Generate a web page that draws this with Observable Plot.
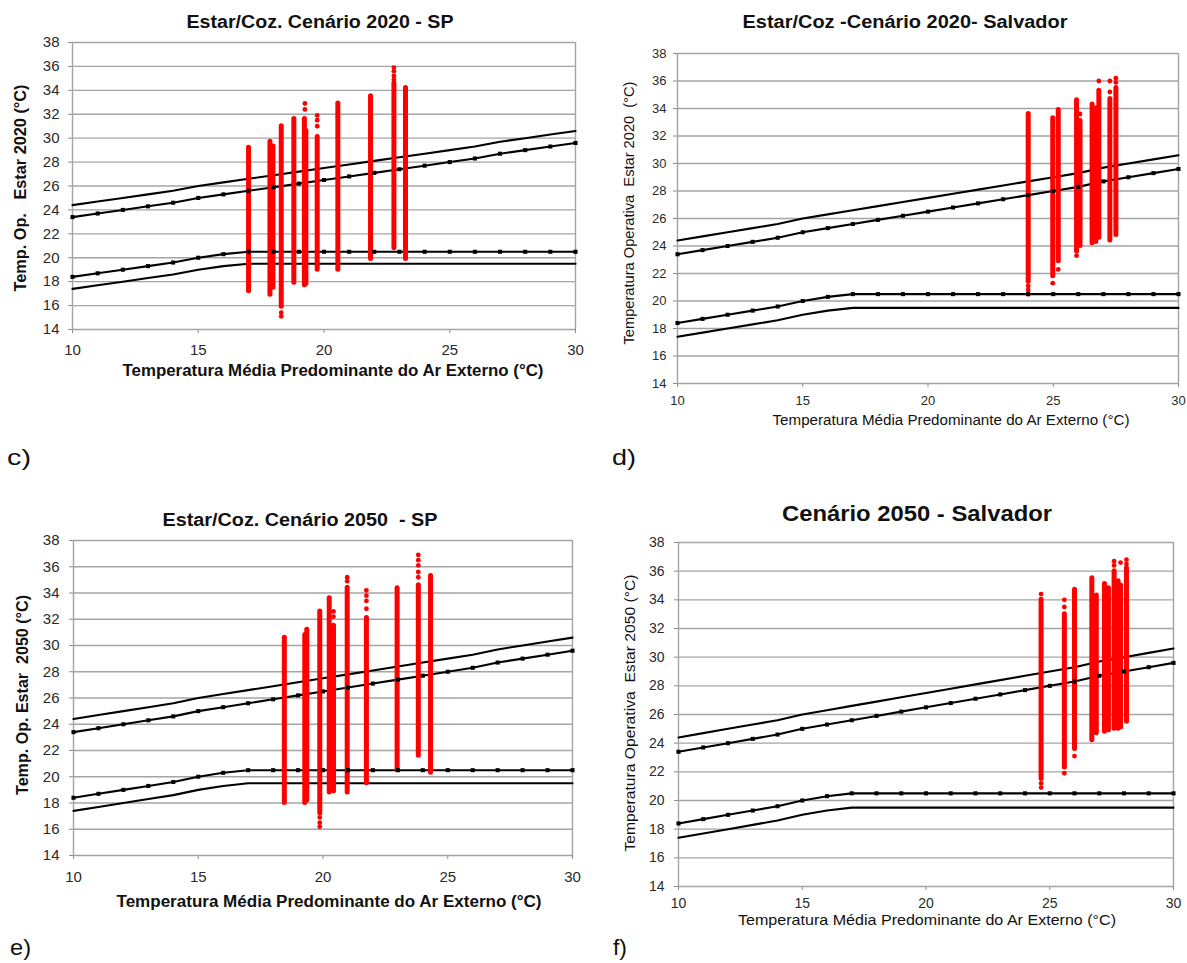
<!DOCTYPE html>
<html>
<head>
<meta charset="utf-8">
<script src="https://cdn.jsdelivr.net/npm/d3@7"></script>
<script src="https://cdn.jsdelivr.net/npm/@observablehq/plot@0.6"></script>
<style>
html, body { margin: 0; padding: 0; background: #fff; }
#fig { position: relative; width: 1187px; height: 963px; overflow: hidden; background: #fff; }
.panel { position: absolute; }
.panel svg { overflow: visible; }
.panel text { fill: #2a2a2a; }
#overlay { position: absolute; left: 0; top: 0; pointer-events: none; }
#overlay text { white-space: pre; }
</style>
</head>
<body>
<div id="fig"></div>
<script>
// ---------- data ----------
const tempExt = [10, 11, 12, 13, 14, 15, 16, 17, 18, 19, 20, 21, 22, 23, 24, 25, 26, 27, 28, 29, 30];
const upper80 = [24.4, 24.7, 25.0, 25.3, 25.6, 26.0, 26.3, 26.6, 26.9, 27.2, 27.5, 27.8, 28.1, 28.4, 28.7, 29.0, 29.3, 29.7, 30.0, 30.3, 30.6];
const upper90 = [23.4, 23.7, 24.0, 24.3, 24.6, 25.0, 25.3, 25.6, 25.9, 26.2, 26.5, 26.8, 27.1, 27.4, 27.7, 28.0, 28.3, 28.7, 29.0, 29.3, 29.6];
const lower90 = [18.4, 18.7, 19.0, 19.3, 19.6, 20.0, 20.3, 20.5, 20.5, 20.5, 20.5, 20.5, 20.5, 20.5, 20.5, 20.5, 20.5, 20.5, 20.5, 20.5, 20.5];
const lower80 = [17.4, 17.7, 18.0, 18.3, 18.6, 19.0, 19.3, 19.5, 19.5, 19.5, 19.5, 19.5, 19.5, 19.5, 19.5, 19.5, 19.5, 19.5, 19.5, 19.5, 19.5];
const yTicks = [14, 16, 18, 20, 22, 24, 26, 28, 30, 32, 34, 36, 38];
const xTicks = [10, 15, 20, 25, 30];

// simulated operative temperature columns: [outdoor mean temp, lowest, highest]
const colsC = [
  [17.0, 17.2, 29.2], [17.85, 16.9, 29.7], [17.97, 17.5, 29.3], [18.3, 15.9, 31.0],
  [18.8, 17.9, 31.6], [19.22, 17.7, 31.6], [19.28, 17.8, 30.6], [19.73, 19.0, 30.1],
  [20.55, 19.0, 32.9], [21.85, 19.9, 33.5], [22.78, 20.8, 34.6], [23.24, 19.9, 34.2]
];
const dotsC = [
  [18.3, 15.1], [18.3, 15.4], [19.24, 32.9], [19.24, 32.4], [19.73, 31.9], [19.73, 31.5],
  [19.73, 31.0], [22.78, 35.9], [22.78, 35.6], [22.78, 35.2], [22.78, 34.9]
];
const colsD = [
  [24.0, 21.4, 33.6], [24.98, 21.8, 33.3], [25.2, 22.9, 33.9], [25.93, 23.6, 34.6],
  [26.07, 24.0, 33.1], [26.55, 24.2, 34.3], [26.7, 24.3, 34.0], [26.82, 24.6, 35.3],
  [27.26, 24.4, 34.7], [27.5, 24.8, 35.5]
];
const dotsD = [
  [24.0, 20.5], [24.0, 20.8], [24.0, 21.1], [24.98, 21.3], [25.2, 22.3], [25.93, 23.3],
  [26.07, 33.6], [26.82, 36.0], [27.26, 36.0], [27.26, 35.2], [27.5, 36.2], [27.5, 35.9]
];
const colsE = [
  [18.45, 18.0, 30.6], [19.27, 18.0, 30.8], [19.35, 18.2, 31.2], [19.87, 17.2, 32.6],
  [20.25, 18.8, 33.6], [20.42, 18.9, 31.5], [20.97, 18.8, 34.4], [21.74, 19.5, 32.1],
  [22.97, 20.5, 34.3], [23.82, 21.6, 34.6], [24.31, 20.3, 35.3]
];
const dotsE = [
  [19.87, 16.2], [19.87, 16.5], [19.87, 16.9], [20.42, 32.6], [20.42, 32.2], [20.97, 35.2],
  [20.97, 34.9], [21.74, 34.2], [21.74, 33.8], [21.74, 33.4], [21.74, 32.8], [22.97, 34.4],
  [23.82, 36.9], [23.82, 36.5], [23.82, 36.1], [23.82, 35.6], [23.82, 35.2]
];
const colsF = [
  [24.65, 21.5, 34.0], [25.59, 22.3, 33.0], [26.0, 23.6, 34.7], [26.7, 24.2, 35.5],
  [26.88, 24.7, 34.3], [27.21, 24.8, 35.1], [27.37, 24.9, 34.8], [27.6, 25.0, 36.0],
  [27.76, 25.0, 35.3], [27.86, 25.1, 35.0], [28.1, 25.5, 36.2]
];
const dotsF = [
  [24.65, 20.9], [24.65, 21.2], [24.65, 34.4], [25.59, 21.9], [25.59, 33.5], [25.59, 34.0],
  [26.0, 23.1], [27.6, 36.7], [27.6, 36.4], [27.86, 36.6], [28.1, 36.8], [28.1, 36.5]
];

// ---------- drawing ----------
const FONT = "'Liberation Sans', Arial, sans-serif";
const fig = document.getElementById("fig");
const limits = tempExt.map((t, i) => ({t, u80: upper80[i], u90: upper90[i], l90: lower90[i], l80: lower80[i]}));

function drawPanel(cfg) {
  const cols = cfg.cols.map(([x, y1, y2]) => ({x, y1, y2}));
  const dots = cfg.dots.map(([x, y]) => ({x, y}));
  const grid = "#a4a4a4";
  const plot = Plot.plot({
    width: cfg.w, height: cfg.h,
    marginLeft: cfg.ml, marginRight: cfg.mr, marginTop: cfg.mt, marginBottom: cfg.mb,
    x: {domain: [10, 30], ticks: xTicks, tickSize: 4, tickPadding: cfg.xpad, label: null},
    y: {domain: [14, 38], ticks: yTicks, tickSize: 4, tickPadding: cfg.ypad, label: null},
    style: {fontFamily: FONT, fontSize: cfg.fs + "px", color: "#8a8a8a", background: "none", overflow: "visible"},
    marks: [
      Plot.ruleY(yTicks, {stroke: grid, strokeWidth: 1.4}),
      Plot.ruleX([10, 30], {stroke: grid, strokeWidth: 1.4}),
      Plot.line(limits, {x: "t", y: "u80", stroke: "#000", strokeWidth: 2.1}),
      Plot.line(limits, {x: "t", y: "u90", stroke: "#000", strokeWidth: 2.1}),
      Plot.line(limits, {x: "t", y: "l90", stroke: "#000", strokeWidth: 2.1}),
      Plot.line(limits, {x: "t", y: "l80", stroke: "#000", strokeWidth: 2.1}),
      Plot.ruleX(cols, {x: "x", y1: "y1", y2: "y2", stroke: "#ff0000", strokeWidth: 5, strokeLinecap: "round"}),
      Plot.dot(dots, {x: "x", y: "y", r: 2.4, fill: "#ff0000"}),
      Plot.dot(limits, {x: "t", y: "u90", symbol: "square", r: 2.3, fill: "#000"}),
      Plot.dot(limits, {x: "t", y: "l90", symbol: "square", r: 2.3, fill: "#000"})
    ]
  });
  const div = document.createElement("div");
  div.className = "panel";
  div.style.left = cfg.left + "px";
  div.style.top = cfg.top + "px";
  div.appendChild(plot);
  fig.appendChild(div);
}

drawPanel({cols: colsC, dots: dotsC, left: 0, top: 0, w: 600, h: 365, ml: 72, mr: 25, mt: 42, mb: 36, xpad: 11, ypad: 9, fs: 15});
drawPanel({cols: colsD, dots: dotsD, left: 600, top: 0, w: 587, h: 410, ml: 77, mr: 9, mt: 53, mb: 27, xpad: 8, ypad: 7, fs: 13});
drawPanel({cols: colsE, dots: dotsE, left: 0, top: 480, w: 600, h: 410, ml: 73, mr: 28, mt: 60, mb: 35, xpad: 12, ypad: 10, fs: 15});
drawPanel({cols: colsF, dots: dotsF, left: 600, top: 480, w: 587, h: 440, ml: 78, mr: 14, mt: 62, mb: 34, xpad: 8, ypad: 10, fs: 14});

// ---------- titles, axis labels, panel letters ----------
const texts = [
  {text: "Estar/Coz. Cenário 2020 - SP", x: 320, y: 28, size: 18, bold: true, len: 267},
  {text: "Estar/Coz -Cenário 2020- Salvador", x: 905, y: 28, size: 18, bold: true, len: 325},
  {text: "Estar/Coz. Cenário 2050  - SP", x: 300, y: 526, size: 18, bold: true, len: 275},
  {text: "Cenário 2050 - Salvador", x: 917, y: 521, size: 22, bold: true, len: 270},
  {text: "Temperatura Média Predominante do Ar Externo (°C)", x: 333, y: 376, size: 16, bold: true, len: 421},
  {text: "Temperatura Média Predominante do Ar Externo (°C)", x: 951, y: 425, size: 14, bold: false, len: 357},
  {text: "Temperatura Média Predominante do Ar Externo (°C)", x: 329, y: 907, size: 16, bold: true, len: 425},
  {text: "Temperatura Média Predominante do Ar Externo (°C)", x: 927, y: 925, size: 14.5, bold: false, len: 378},
  {text: "Temp. Op.   Estar 2020 (°C)", x: 26, y: 188, size: 16, bold: true, len: 207, rotate: true},
  {text: "Temperatura Operativa  Estar 2020  (°C)", x: 634, y: 213, size: 14, bold: false, len: 263, rotate: true},
  {text: "Temp. Op. Estar  2050 (°C)", x: 28, y: 695, size: 16, bold: true, len: 200, rotate: true},
  {text: "Temperatura Operativa  Estar 2050 (°C)", x: 635, y: 713, size: 15, bold: false, len: 277, rotate: true},
  {text: "c)", x: 7, y: 465, size: 22, bold: false, len: 24, anchor: "start"},
  {text: "d)", x: 612, y: 465, size: 22, bold: false, len: 24, anchor: "start"},
  {text: "e)", x: 10, y: 955, size: 22, bold: false, len: 21, anchor: "start"},
  {text: "f)", x: 613, y: 955, size: 22, bold: false, len: 14, anchor: "start"}
];

const ov = d3.select("#fig").append("svg").attr("id", "overlay").attr("width", 1187).attr("height", 963);
for (const t of texts) {
  const el = ov.append("text")
    .attr("x", t.x).attr("y", t.y)
    .attr("text-anchor", t.anchor || "middle")
    .attr("font-family", FONT)
    .attr("font-size", t.size)
    .attr("font-weight", t.bold ? "bold" : "normal")
    .attr("fill", "#111")
    .attr("textLength", t.len)
    .attr("lengthAdjust", "spacingAndGlyphs")
    .text(t.text);
  if (t.rotate) el.attr("transform", `rotate(-90 ${t.x} ${t.y})`);
}
</script>
</body>
</html>
